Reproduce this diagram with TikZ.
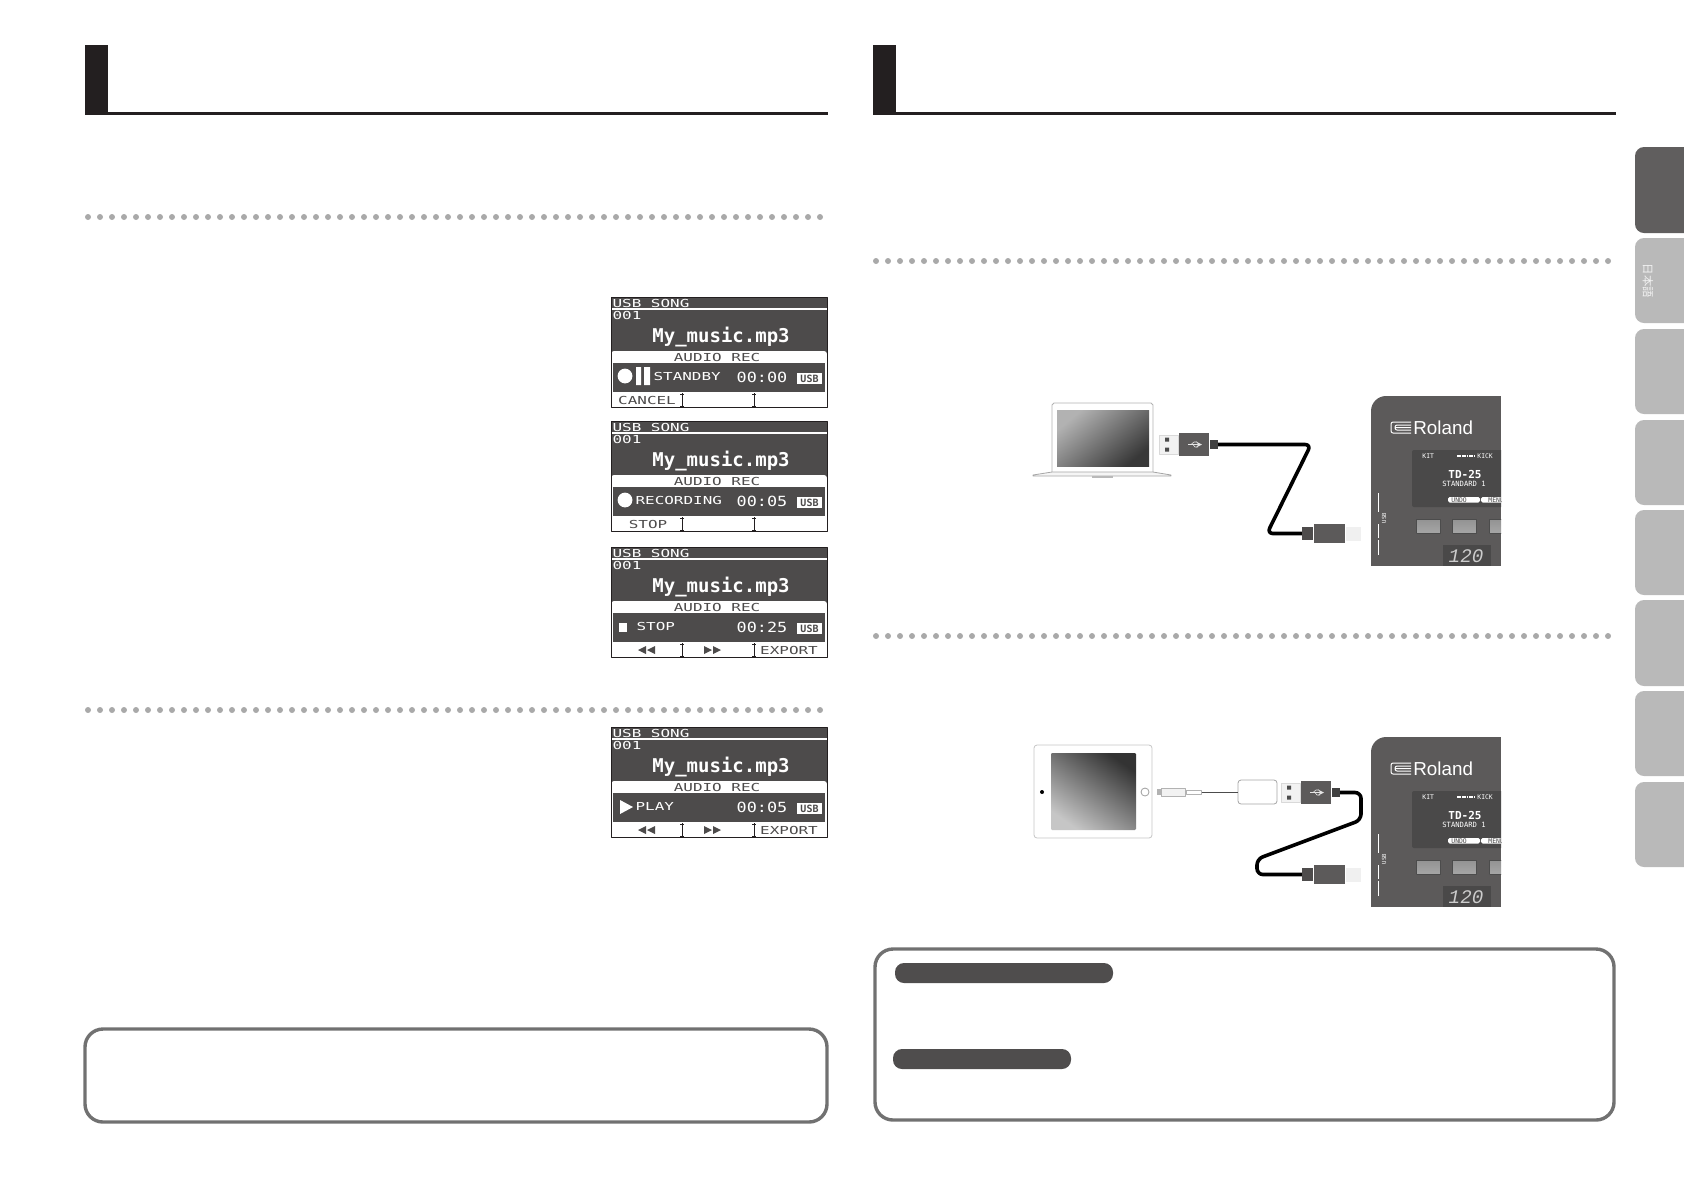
\documentclass[tikz,border=0pt]{standalone}
\usepackage{fontspec}
\newfontfamily\lcdfont{DejaVu Sans Mono}
\newfontfamily\brandfont{Liberation Sans}
\newfontfamily\segfont{Liberation Mono}
\newfontfamily\cjk{Noto Sans CJK JP}
\definecolor{inkblack}{HTML}{231F20}
\definecolor{dotgray}{HTML}{A9A9A9}
\definecolor{lcddark}{HTML}{4D4B4B}
\definecolor{panelgray}{HTML}{5C5A5A}
\definecolor{panellcd}{HTML}{4A4949}
\definecolor{tabdark}{HTML}{605E5E}
\definecolor{tablight}{HTML}{B9B9B9}
\definecolor{boxgray}{HTML}{717171}
\definecolor{pillgray}{HTML}{4F4D4D}
\tikzset{
	lcdtext/.style={font=\fontsize{5.5}{6}\selectfont\lcdfont, inner sep=0pt, xscale=1.45, transform shape, text=white},
	lcddarktext/.style={lcdtext, text=lcddark},
	timetext/.style={font=\fontsize{7}{8}\selectfont\lcdfont, inner sep=0pt, xscale=1.2, transform shape, text=white},
	titletext/.style={font=\fontsize{9.5}{10}\selectfont\lcdfont\bfseries, inner sep=0pt, text=white},
	usbbadge/.style={fill=white, font=\fontsize{5}{5}\selectfont\lcdfont\bfseries, text=lcddark, inner sep=0pt, minimum width=12.5pt, minimum height=5.5pt},
	notebox/.style={draw=boxgray, line width=1.7pt, rounded corners=9pt},
	pill/.style={fill=pillgray, rounded corners=4.5pt},
	cable/.style={draw=black, line width=1.8pt, rounded corners=3pt, line join=round},
	plugbody/.style={fill=panelgray, inner sep=0pt, minimum width=15pt, minimum height=11.5pt},
	plugmetal/.style={fill=gray!10, draw=gray!30, line width=.3pt, inner sep=0pt, minimum width=9.5pt, minimum height=9.5pt},
	strain/.style={fill=black!75, inner sep=0pt, minimum width=4pt, minimum height=4.5pt},
	panelbtn/.style={top color=gray!85, bottom color=gray!70, draw=gray!60!black, line width=.2pt},
	paneltext/.style={inner sep=0pt, text=white, font=\fontsize{3.2}{4}\selectfont\lcdfont},
}
\begin{document}
\begin{tikzpicture}[x=.5pt, y=-.5pt, line join=round, >=stealth]
	\useasboundingbox (0,0) rectangle (1684,1191);
	\foreach \xa/\xb in {85/828,873/1616}{
		\fill[inkblack] (\xa,45) rectangle ({\xa+23},115);
		\fill[inkblack] (\xa,112) rectangle (\xb,115);
	}
	\foreach \xa/\yy/\m in {88/217/61,88/710/61,876/261/61,876/636/61}
	\foreach \k in {0,...,\m}
	\fill[dotgray] ({\xa+12*\k},\yy) circle (1.5pt);
	\foreach \a/\b/\c in {147/233/tabdark,238/323/tablight,329/414/tablight,420/505/tablight,510/595/tablight,600/686/tablight,691/776/tablight,782/867/tablight}
	\fill[\c] (1684,\a) [rounded corners=4.5pt] -- (1635,\a) -- (1635,\b) [sharp corners] -- (1684,\b) -- cycle;
	\node[rotate=-90, inner sep=0pt, text=white!90!gray, font=\fontsize{5.7}{6}\selectfont\cjk] (tablabel) at (1648,281) {日本語};
	\foreach \n/\yy/\sx/\st/\tm in {1/297/42/STANDBY/00:00,2/421/24/RECORDING/00:05,3/547/25/STOP/00:25,4/727/24/PLAY/00:05}{
		\begin{scope}[shift={(611,\yy)}]
			\fill[lcddark] (0,0) rectangle (216,110);
			\fill[white] (0,11) rectangle (216,12.5);
			\fill[white, rounded corners=1.5pt] (0,54) rectangle (216,70);
			\fill[white] (0,66) rectangle (216,110);
			\fill[lcddark] (2,66) rectangle (214,95);
			\draw[inkblack, line width=.5pt] (0,0) rectangle (216,110);
			\foreach \dv in {71,143}{
				\draw[inkblack, line width=.5pt] (\dv,96) -- (\dv,110) ({\dv-2},97) -- ({\dv+2},97) ({\dv-2},109) -- ({\dv+2},109);
			}
			\node[lcdtext, anchor=west] (song\n) at (1,6) {USB SONG};
			\node[lcdtext, anchor=west] (num\n) at (1,18.5) {001};
			\node[titletext] (file\n) at (110,40) {My\_music.mp3};
			\node[lcddarktext] (mode\n) at (106,60.5) {AUDIO REC};
			\node[lcdtext, anchor=west] (state\n) at (\sx,79) {\st};
			\node[timetext] (time\n) at (151,80.5) {\tm};
			\node[usbbadge] (usb\n) at (198.5,81.5) {USB};
		\end{scope}
	}
	\foreach \n/\yy/\kx/\kt in {1/297/36/CANCEL,2/421/37/STOP,3/547/178/EXPORT,4/727/178/EXPORT}
	\node[lcddarktext] (key\n) at (611+\kx,\yy+103) {\kt};
	\foreach \yy in {297,421}{
		\fill[white] (625,\yy+79) circle (3.7pt);
	}
	\fill[white] (636,367) rectangle (641,385) (644,367) rectangle (650,385);
	\fill[white] (619,623) rectangle (627,632);
	\fill[white] (620,800) -- (633,807) -- (620,814) -- cycle;
	\foreach \yy in {650,830}{
		\fill[lcddark] (638,\yy) -- (646,\yy-4) -- (646,\yy+4) -- cycle (647,\yy) -- (655,\yy-4) -- (655,\yy+4) -- cycle;
		\fill[lcddark] (712,\yy) -- (704,\yy-4) -- (704,\yy+4) -- cycle (721,\yy) -- (713,\yy-4) -- (713,\yy+4) -- cycle;
	}
	\draw[notebox] (85,1029) rectangle (827,1122);
	\draw[notebox] (875,949) rectangle (1614,1120);
	\fill[pill] (895,963) rectangle (1113,983);
	\fill[pill] (893,1049) rectangle (1071,1069);
	\foreach \d/\dy in {l/0,t/341}{
		\begin{scope}[shift={(0,\dy)}]
			\begin{scope}
				\clip (1501,396) -- (1386,396) arc[start angle=90, end angle=180, radius=7.5pt] -- (1371,566) -- (1501,566) -- cycle;
				\fill[panelgray] (1360,390) rectangle (1501,566);
				\fill[panellcd, rounded corners=1pt] (1412,450) rectangle (1510,507);
				\node[text=white, inner sep=0pt, anchor=west, font=\fontsize{9.4}{10}\selectfont\brandfont] (brand\d) at (1413,428) {Roland};
				\draw[white, line width=.5pt, rounded corners=1pt] (1411,422) -- (1391,422) -- (1391,433) -- (1411,433) (1411,427.5) -- (1395,427.5) (1411,425) -- (1395,425) -- (1395,430) -- (1411,430);
				\node[paneltext, anchor=west] (kit\d) at (1422,456) {KIT};
				\draw[white, line width=1.4pt, dash pattern=on .9pt off .3pt] (1457,456) -- (1475,456);
				\node[paneltext, anchor=west] (kick\d) at (1477,456) {KICK};
				\node[inner sep=0pt, text=white, font=\fontsize{5.5}{6}\selectfont\lcdfont\bfseries] (model\d) at (1465,474) {TD-25};
				\node[inner sep=0pt, text=white, font=\fontsize{3.6}{4}\selectfont\lcdfont] (patch\d) at (1464,484) {STANDARD 1};
				\fill[white, rounded corners=.8pt] (1448,497) rectangle (1480,502.5) (1481,497) rectangle (1510,502.5);
				\node[paneltext, text=panellcd, anchor=west] (undo\d) at (1451,499.8) {UNDO};
				\node[paneltext, text=panellcd, anchor=west] (menu\d) at (1488,499.8) {MENU};
				\foreach \bx in {1416,1452,1489}
				\shade[panelbtn] (\bx,519) rectangle ({\bx+24},533);
				\fill[panellcd] (1443,545) rectangle (1491,566);
				\node[inner sep=0pt, text=gray!40, font=\fontsize{9.6}{10}\selectfont\segfont\itshape] (tempo\d) at (1466,556.5) {120};
			\end{scope}
			\draw[white, line width=.3pt] (1378,493) -- (1378,512) (1378,540) -- (1378,555) (1378,524) -- (1378,538);
			\node[paneltext, rotate=90, font=\fontsize{2.8}{3}\selectfont\lcdfont] (usbmark\d) at (1384,518) {USB};
			\node[fill=panelgray, inner sep=0pt, minimum width=15.5pt, minimum height=9.5pt] (bodyB\d) at (1329.5,533.5) {};
			\node[strain, fill=panelgray!85!black, minimum width=5.5pt, minimum height=6.5pt, anchor=east] (strainB\d) at (bodyB\d.west) {};
			\node[fill=gray!12, inner sep=0pt, minimum width=7.5pt, minimum height=7pt, anchor=west] (metalB\d) at (bodyB\d.east) {};
		\end{scope}
	}
	\foreach \c/\x/\y in {l/1194/444.5,t/1316/792.5}{
		\node[plugbody] (bodyA\c) at (\x,\y) {};
		\node[strain, anchor=west] (strainA\c) at (bodyA\c.east) {};
		\node[plugmetal, anchor=east] (metalA\c) at (bodyA\c.west) {};
		\fill[black!70] (\x-29,\y-7) rectangle (\x-25,\y-3) (\x-29,\y+3) rectangle (\x-25,\y+7);
		\draw[white!80!gray, line width=.3pt, ->] (\x-6,\y) -- (\x+8,\y);
		\draw[white!80!gray, line width=.3pt] (\x-3,\y) -- (\x,\y-2.5) -- (\x+3,\y-2.5) (\x-1,\y) -- (\x+1,\y+2.5) -- (\x+4,\y+2.5);
	}
	\path
	(1311,444.5) coordinate (bendA)
	(1267,533.5) coordinate (bendB)
	(1361,792.5) coordinate (bendC)
	(1361,820) coordinate (bendD)
	(1257,859) coordinate (bendE)
	(1257,874.5) coordinate (bendF)
	;
	\draw[cable] (strainAl.east) -- (bendA) -- (bendB) -- (strainBl.west);
	\draw[cable] (strainAt.east) -- (bendC) -- (bendD) -- (bendE) -- (bendF) -- (strainBt.west);
	\fill[white] (1052,403) rectangle (1153,472);
	\draw[gray!60, line width=.4pt] (1052,472) -- (1052,405) -- (1054,403) -- (1151,403) -- (1153,405) -- (1153,472);
	\shade[top color=gray!60, bottom color=black!78, shading angle=40] (1057,410) rectangle (1149,466);
	\draw[gray!70, line width=.4pt, fill=gray!8] (1052,472) -- (1153,472) -- (1171,475) -- (1171,476) -- (1033,476) -- (1033,475) -- cycle;
	\fill[gray!55] (1092,476) rectangle (1113,478);
	\draw[gray!45, line width=.4pt, fill=white, rounded corners=1.5pt] (1034,745) rectangle (1152,838);
	\shade[top color=black!80, bottom color=gray!45, shading angle=-35, rounded corners=.6pt] (1051,753) rectangle (1136,830);
	\fill[black] (1042,792) circle (1pt);
	\draw[gray!75, line width=.4pt] (1145,792) circle (2pt);
	\node[fill=gray!60, inner sep=0pt, minimum width=2pt, minimum height=3pt] (lighttip) at (1159,792) {};
	\node[draw=gray!60, line width=.4pt, fill=gray!10, inner sep=0pt, minimum width=12pt, minimum height=4pt, anchor=west] (lightbody) at (lighttip.east) {};
	\node[draw=gray!60, line width=.3pt, fill=white, inner sep=0pt, minimum width=7.5pt, minimum height=2pt, anchor=west] (lightneck) at (lightbody.east) {};
	\node[draw=gray!70, line width=.4pt, fill=white, rounded corners=1.5pt, inner sep=0pt, minimum width=19.5pt, minimum height=12pt] (adapter) at (1257.5,792) {};
	\draw[black!70, line width=.3pt] (lightneck.east) -- (adapter.west);
\end{tikzpicture}
\end{document}
